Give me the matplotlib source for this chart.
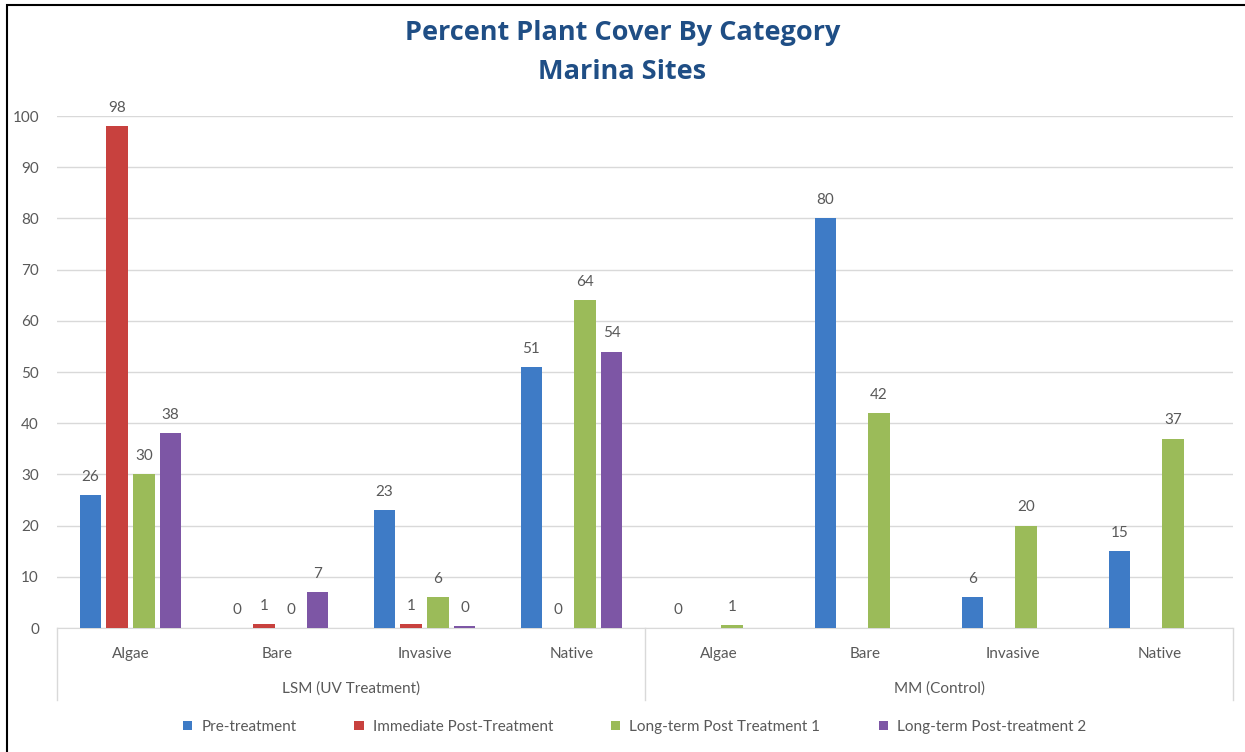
import numpy as np
import matplotlib
matplotlib.use("Agg")
import matplotlib.pyplot as plt
from matplotlib.patches import Rectangle
from matplotlib.lines import Line2D

plt.rcParams['font.family'] = ['Lato', 'DejaVu Sans']

# sites and categories along the x axis
sites = ["LSM (UV Treatment)", "MM (Control)"]
categories = ["Algae", "Bare", "Invasive", "Native"]

series_names = ["Pre-treatment", "Immediate Post-Treatment",
                "Long-term Post Treatment 1", "Long-term Post-treatment 2"]
series_colors = ["#3E7BC6", "#C8413E", "#9BBB59", "#7D56A5"]

# percent cover, LSM categories then MM categories (nan = not sampled)
pre_treatment = [26, 0, 23, 51, 0, 80, 6, 15]
immediate_post = [98, 0.8, 0.8, 0, np.nan, np.nan, np.nan, np.nan]
long_term_1 = [30, 0, 6, 64, 0.6, 42, 20, 37]
long_term_2 = [38, 7, 0.3, 54, np.nan, np.nan, np.nan, np.nan]

all_series = [pre_treatment, immediate_post, long_term_1, long_term_2]

fig = plt.figure(figsize=(12.45, 7.52), dpi=100)
ax = fig.add_axes([57 / 1245, 1 - 628 / 752, (1233 - 57) / 1245, (628 - 116) / 752])

n_cat = len(sites) * len(categories)
x = np.arange(n_cat)
slot = 0.182
width = 0.145

for i, (vals, name, col) in enumerate(zip(all_series, series_names, series_colors)):
    vals = np.array(vals, dtype=float)
    offs = (i - 1.5) * slot
    ax.bar(x + offs, vals, width, color=col, label=name, zorder=3)
    for xi, v in zip(x, vals):
        if np.isnan(v):
            continue
        ax.annotate(f"{v:.0f}", (xi + offs, v), xytext=(0, 8), textcoords="offset points",
                    ha="center", va="bottom", fontsize=11, color="#595959")

ax.set_xlim(-0.5, n_cat - 0.5)
ax.set_ylim(0, 100)
ax.set_yticks(range(0, 101, 10))
ax.yaxis.grid(True, color="#D9D9D9", linewidth=1, zorder=0)
ax.tick_params(axis="y", length=0, pad=13, labelsize=11, labelcolor="#595959")
ax.set_xticks([])
for s in ["top", "right", "left"]:
    ax.spines[s].set_visible(False)
ax.spines["bottom"].set_color("#D9D9D9")

# two-level category axis
trans = ax.get_xaxis_transform()
for xi in x:
    ax.text(xi, -0.05, categories[xi % 4], transform=trans, ha="center", va="center",
            fontsize=11, color="#595959")
for j, site in enumerate(sites):
    ax.text(j * 4 + 1.5, -0.118, site, transform=trans, ha="center", va="center",
            fontsize=11, color="#595959")
for xb in [-0.5, 3.5, 7.5]:
    ax.add_line(Line2D([xb, xb], [0, -0.14], transform=trans, color="#D9D9D9",
                       linewidth=1, clip_on=False))

title_font = dict(ha="center", va="center", fontsize=19.5, fontweight="bold",
                  color="#1F4E85", family=["Open Sans", "DejaVu Sans"])
fig.text(0.5, 1 - 33 / 752, "Percent Plant Cover By Category", **title_font)
fig.text(0.5, 1 - 72 / 752, "Marina Sites", **title_font)

fig.legend(loc="center", bbox_to_anchor=(0.5 + 12 / 1245, 1 - 727 / 752), ncol=4,
           frameon=False, fontsize=11, handlelength=0.6, handleheight=0.6,
           columnspacing=3.8, handletextpad=0.6, labelcolor="#595959")

# outer chart frame
fig.patches.append(Rectangle((7 / 1245, -0.01), 1.1, 1 - 5 / 752 + 0.01,
                             transform=fig.transFigure, fill=False, edgecolor="black",
                             linewidth=1.5))

fig.savefig("out.png", dpi=100)
